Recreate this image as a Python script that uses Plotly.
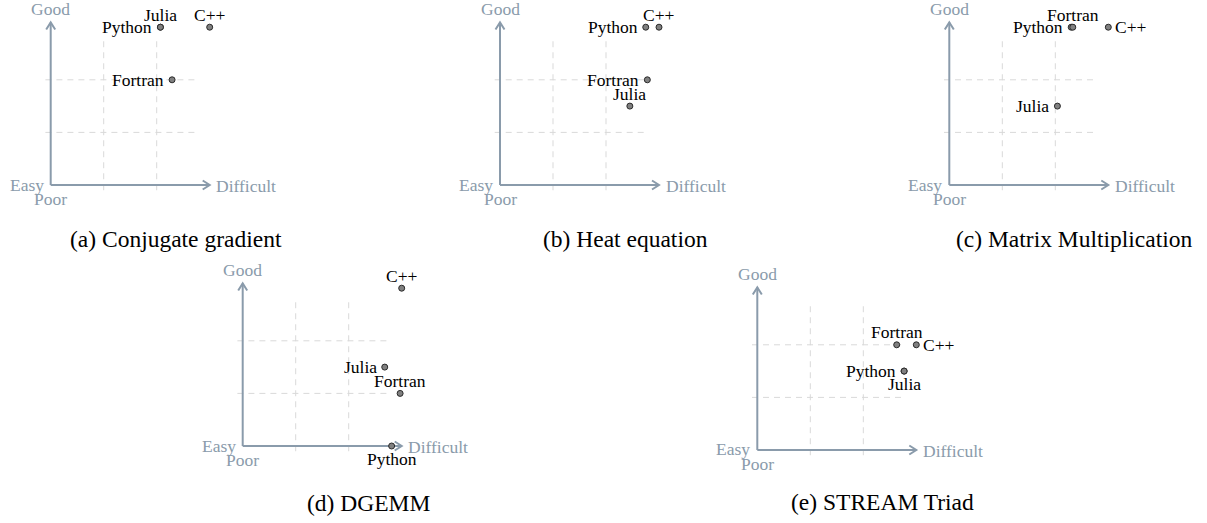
import plotly.graph_objects as go

# ---------------- data ----------------
PANEL_TITLES = ["(a) Conjugate gradient", "(b) Heat equation", "(c) Matrix Multiplication",
                "(d) DGEMM", "(e) STREAM Triad"]

CG_LANGS = ["Python", "Julia", "C++", "Fortran"]
CG_EASE = [2.07, 2.07, 3.0, 2.29]
CG_PERF = [3.0, 3.0, 3.0, 2.0]

HEAT_LANGS = ["Python", "C++", "Fortran", "Julia"]
HEAT_EASE = [2.75, 3.0, 2.78, 2.45]
HEAT_PERF = [3.0, 3.0, 2.0, 1.5]

MM_LANGS = ["Python", "Fortran", "C++", "Julia"]
MM_EASE = [2.30, 2.33, 3.0, 2.04]
MM_PERF = [3.0, 3.0, 3.0, 1.5]

DGEMM_LANGS = ["C++", "Julia", "Fortran", "Python"]
DGEMM_EASE = [3.0, 2.68, 2.97, 2.81]
DGEMM_PERF = [3.0, 1.5, 1.0, 0.0]

STREAM_LANGS = ["Fortran", "C++", "Python", "Julia"]
STREAM_EASE = [2.63, 3.0, 2.77, 2.77]
STREAM_PERF = [2.0, 2.0, 1.5, 1.5]

GRID_TICKS = [1, 2]
AXIS_LABELS = {"y_top": "Good", "x_left": "Easy", "y_bottom": "Poor", "x_right": "Difficult"}

# ---------------- styles / layout ----------------
LABEL_SIDES = [
    ["left", "above", "above", "left"],
    ["left", "above", "left", "above"],
    ["left", "above", "right", "left"],
    ["above", "left", "above", "below"],
    ["above", "right", "left", "below"],
]
W, H = 1207, 523
SX, SY = 53.0, 52.6                      # pixels per unit
ORIGINS = [(50.7, 185), (500, 185), (949.3, 185), (242.7, 446), (757.3, 450)]
CAPTION_Y = [239, 239, 239, 502.5, 502.5]
X_TIP, Y_TIP = 3.0, 3.09
GRID_LO, GRID_HI = -0.1, 2.77
AX_COLOR = "#8a9bab"
GRID_COLOR = "#d9d9d9"
FONT = "Liberation Serif"
LBL_SIZE = 17.5
CAP_SIZE = 23.5

panels = [
    (CG_LANGS, CG_EASE, CG_PERF),
    (HEAT_LANGS, HEAT_EASE, HEAT_PERF),
    (MM_LANGS, MM_EASE, MM_PERF),
    (DGEMM_LANGS, DGEMM_EASE, DGEMM_PERF),
    (STREAM_LANGS, STREAM_EASE, STREAM_PERF),
]

fig = go.Figure()
shapes = []
annotations = []
LEFT_PX, RIGHT_PX, TOP_PX, BOT_PX = 50, 230, 185, 70

for i, ((langs, xs, ys), (ox, oy)) in enumerate(zip(panels, ORIGINS)):
    n = "" if i == 0 else str(i + 1)
    xa, ya = "x" + n, "y" + n
    fig.update_layout(**{
        "xaxis" + n: dict(domain=[(ox - LEFT_PX) / W, (ox + RIGHT_PX) / W],
                          range=[-LEFT_PX / SX, RIGHT_PX / SX], visible=False, fixedrange=True,
                          anchor=ya),
        "yaxis" + n: dict(domain=[(H - (oy + BOT_PX)) / H, (H - (oy - TOP_PX)) / H],
                          range=[-BOT_PX / SY, TOP_PX / SY], visible=False, fixedrange=True,
                          anchor=xa),
    })

    # dashed grid
    for t in GRID_TICKS:
        shapes.append(dict(type="line", xref=xa, yref=ya, x0=GRID_LO, x1=GRID_HI, y0=t, y1=t,
                           line=dict(color=GRID_COLOR, width=1, dash="6px,5px"), layer="below"))
        shapes.append(dict(type="line", xref=xa, yref=ya, x0=t, x1=t, y0=GRID_LO, y1=GRID_HI,
                           line=dict(color=GRID_COLOR, width=1, dash="6px,5px"), layer="below"))
    # axes with open arrow heads
    shapes.append(dict(type="line", xref=xa, yref=ya, x0=0, x1=X_TIP, y0=0, y1=0,
                       line=dict(color=AX_COLOR, width=2), layer="below"))
    shapes.append(dict(type="line", xref=xa, yref=ya, x0=0, x1=0, y0=0, y1=Y_TIP,
                       line=dict(color=AX_COLOR, width=2), layer="below"))
    hb, hw = 7.0, 4.5
    shapes.append(dict(type="path", xref=xa, yref=ya,
                       path=f"M {X_TIP - hb / SX} {hw / SY} L {X_TIP} 0 L {X_TIP - hb / SX} {-hw / SY}",
                       line=dict(color=AX_COLOR, width=2), layer="below"))
    shapes.append(dict(type="path", xref=xa, yref=ya,
                       path=f"M {-hw / SX} {Y_TIP - hb / SY} L 0 {Y_TIP} L {hw / SX} {Y_TIP - hb / SY}",
                       line=dict(color=AX_COLOR, width=2), layer="below"))

    axfont = dict(family=FONT, size=LBL_SIZE, color=AX_COLOR)
    annotations += [
        dict(xref=xa, yref=ya, x=0, y=Y_TIP, text=AXIS_LABELS["y_top"], showarrow=False,
             xanchor="center", yanchor="middle", yshift=13.5, font=axfont),
        dict(xref=xa, yref=ya, x=0, y=0, text=AXIS_LABELS["x_left"], showarrow=False,
             xanchor="right", yanchor="middle", xshift=-5, yshift=0.5, font=axfont),
        dict(xref=xa, yref=ya, x=0, y=0, text=AXIS_LABELS["y_bottom"], showarrow=False,
             xanchor="center", yanchor="middle", yshift=-14, font=axfont),
        dict(xref=xa, yref=ya, x=X_TIP, y=0, text=AXIS_LABELS["x_right"], showarrow=False,
             xanchor="left", yanchor="middle", xshift=4.5, yshift=-1, font=axfont),
    ]

    # points
    fig.add_trace(go.Scatter(x=xs, y=ys, mode="markers", xaxis=xa, yaxis=ya, showlegend=False,
                             hoverinfo="text", text=langs,
                             marker=dict(size=6, color="#808080",
                                         line=dict(color="#2a2a2a", width=1))))
    for lang, x, y, side in zip(langs, xs, ys, LABEL_SIDES[i]):
        a = dict(xref=xa, yref=ya, x=x, y=y, text=lang, showarrow=False,
                 font=dict(family=FONT, size=LBL_SIZE, color="black"))
        if side == "left":
            a.update(xanchor="right", yanchor="middle", xshift=-6)
        elif side == "right":
            a.update(xanchor="left", yanchor="middle", xshift=5)
        elif side == "above":
            a.update(xanchor="center", yanchor="middle", yshift=12.5)
        else:
            a.update(xanchor="center", yanchor="middle", yshift=-13)
        annotations.append(a)

    # caption
    annotations.append(dict(xref=xa, yref=ya, x=125.5 / SX, y=0, text=PANEL_TITLES[i],
                            showarrow=False, xanchor="center", yanchor="middle",
                            yshift=-(CAPTION_Y[i] - oy),
                            font=dict(family=FONT, size=CAP_SIZE, color="black")))

fig.update_layout(width=W, height=H, margin=dict(l=0, r=0, t=0, b=0),
                  paper_bgcolor="white", plot_bgcolor="white",
                  shapes=shapes, annotations=annotations)
fig.write_html("out.html", config={"displayModeBar": False},
               post_script="document.body.style.margin='0';document.body.style.overflow='hidden';")
